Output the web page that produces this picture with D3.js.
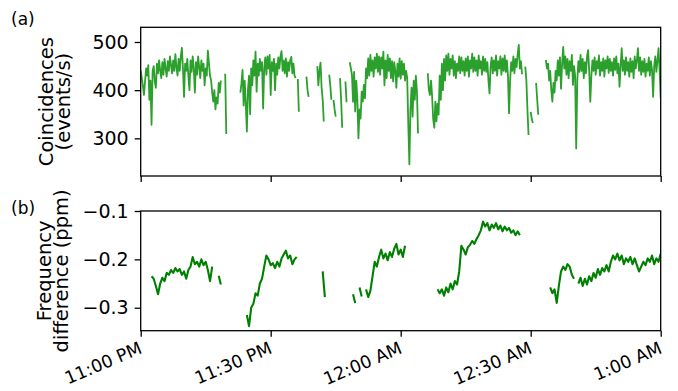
<!DOCTYPE html>
<html>
<head>
<meta charset="utf-8">
<script src="https://cdn.jsdelivr.net/npm/d3@7"></script>
<style>
  body { margin: 0; background: #fff; }
  svg { display: block; }
  text { font-family: "DejaVu Sans", sans-serif; fill: #000; }
</style>
</head>
<body>
<svg id="chart"></svg>
<script>
var width = 678;
var height = 391;

// minutes after 11:00 PM
var tickMinutes = [0, 30, 60, 90, 120];
var tickLabels = ["11:00 PM", "11:30 PM", "12:00 AM", "12:30 AM", "1:00 AM"];

// coincidences (events/s), one sample every quarter minute, null = no data
var coincStep = 0.25;
var coincRate = [
  440, 425, 410, 390, 418, 445, 430, 452, 380, 420,
  328, 440, 450, 418, 405, 455, 435, 462, 440, 425,
  458, 432, 465, 445, 428, 460, 440, 470, 452, 435,
  462, 440, 475, 448, 430, 465, 440, 470, 488, 445,
  386, 455, 440, 465, 430, 400, 462, 438, 470, 445,
  395, 458, 432, 470, 448, 425, 462, 440, 455, 410,
  445, 430, 482, 455, 430, 420, 395, 376, 400, 360,
  385, 372, 415, 395, 420, null, null, null, 434, 309,
  null, null, null, null, null, null, null, null, null, null,
  null, null, 395, 414, 442, 368, 420, 372, 314, 400,
  430, 350, 445, 410, 462, 430, 480, 397, 455, 430,
  465, 440, 458, 362, 445, 468, 432, 470, 445, 473,
  390, 458, 440, 465, 400, 455, 432, 468, 445, 470,
  481, 440, 462, 435, 466, 428, 458, 440, 462, 469,
  435, 455, 430, 425, null, 423, 355, null, null, null,
  null, null, null, 428, 400, 386, null, null, null, null,
  null, null, null, 450, 410, 440, 457, 405, 380, 335,
  null, null, null, null, 432, 410, 380, null, 380, 360,
  345, null, null, null, 425, 380, 322, null, null, 418,
  375, null, null, 458, 445, 432, 376, 438, 356, 420,
  380, 300, 360, 341, 397, 376, 411, 383, 445, 425,
  466, 430, 473, 440, 462, 428, 468, 445, 476, 438,
  470, 432, 468, 445, 480, 410, 462, 425, 473, 440,
  466, 425, 460, 418, 458, 440, 405, 455, 428, 466,
  424, 460, 432, 455, 420, 440, 425, 330, 246, 360,
  405, 345, 420, 380, 430, 397, 310, null, null, null,
  null, null, null, null, null, 435, 400, 390, 420, 387,
  340, 322, 376, 335, 372, 349, 430, 380, 455, 400,
  465, 420, 472, 440, 476, 432, 465, 445, 472, 430,
  460, 425, 455, 440, 470, 435, 468, 440, 460, 430,
  466, 440, 470, 428, 462, 445, 476, 438, 468, 440,
  462, 430, 472, 445, 460, 432, 470, 440, 465, 438,
  458, 420, 393, 450, 468, 435, 462, 440, 472, 430,
  460, 445, 470, 432, 466, 440, 472, 438, 462, 430,
  352, 420, 458, 440, 470, 435, 465, 448, 475, 494,
  445, 460, 433, null, null, 449, 420, 360, 307, null,
  355, 340, 332, null, null, 415, 380, 349, null, null,
  null, null, null, null, 463, 445, 455, 420, 440, 400,
  376, 415, 395, 440, 420, 462, 430, 468, 403, 455,
  490, 445, 470, 432, 465, 425, 460, 440, 473, 411,
  450, 430, 279, 420, 460, 438, 473, 440, 465, 425,
  458, 435, 470, 483, 440, 376, 430, 462, 440, 468,
  432, 460, 445, 472, 430, 458, 440, 466, 428, 462,
  445, 470, 436, 465, 440, 458, 430, 466, 442, 470,
  435, 455, 407, 450, 487, 440, 462, 432, 468, 440,
  458, 428, 466, 438, 460, 425, 470, 445, 462, 487,
  440, 468, 432, 460, 438, 465, 428, 455, 440, 468,
  430, 460, 442, 386, 450, 470, 438, 462, 487, 440,
  383
];

// frequency difference (ppm), one sample every half minute
var freqStep = 0.5;
var freqDiff = [
  null, null, null, null, null, -0.235, -0.240, -0.255, -0.272, -0.250,
  -0.238, -0.245, -0.228, -0.232, -0.222, -0.228, -0.218, -0.225, -0.220, -0.232,
  -0.225, -0.240, -0.222, -0.215, -0.195, -0.210, -0.205, -0.215, -0.200, -0.212,
  -0.205, -0.222, -0.245, -0.215, null, null, -0.234, -0.252, null, null,
  null, null, null, null, null, null, null, null, null, -0.315,
  -0.338, -0.300, -0.292, -0.270, -0.275, -0.250, -0.240, -0.215, -0.192, -0.200,
  -0.212, -0.208, -0.218, -0.205, -0.215, -0.198, -0.190, -0.182, -0.198, -0.192,
  -0.210, -0.200, -0.195, null, null, null, null, null, null, null,
  null, null, null, null, -0.225, -0.278, null, null, null, null,
  null, null, null, null, null, null, null, null, -0.272, -0.290,
  null, -0.258, -0.277, null, -0.262, -0.278, -0.265, -0.235, -0.205, -0.215,
  -0.195, -0.180, -0.198, -0.188, -0.202, -0.185, -0.195, -0.178, -0.168, -0.190,
  -0.180, -0.195, -0.172, null, null, null, null, null, null, null,
  null, null, null, null, null, null, null, -0.262, -0.270, -0.262,
  -0.275, -0.258, -0.268, -0.250, -0.262, -0.245, -0.252, -0.225, -0.172, -0.180,
  -0.190, -0.175, -0.170, -0.162, -0.168, -0.158, -0.150, -0.140, -0.122, -0.132,
  -0.125, -0.140, -0.128, -0.135, -0.125, -0.138, -0.130, -0.142, -0.132, -0.140,
  -0.135, -0.145, -0.140, -0.150, -0.142, -0.150, null, null, null, null,
  null, null, null, null, null, null, null, null, null, -0.258,
  -0.270, -0.262, -0.290, -0.255, -0.225, -0.215, -0.222, -0.210, -0.215, -0.232,
  -0.240, null, -0.250, -0.238, -0.255, -0.240, -0.252, -0.235, -0.245, -0.228,
  -0.238, -0.220, -0.232, -0.218, -0.225, -0.212, -0.225, -0.205, -0.192, -0.200,
  -0.188, -0.202, -0.192, -0.210, -0.198, -0.205, -0.195, -0.210, -0.198, -0.212,
  -0.225, -0.215, -0.205, -0.212, -0.198, -0.205, -0.192, -0.210, -0.198, -0.205,
  -0.188
];

var coincTicks = [300, 400, 500];
var freqTicks = [-0.3, -0.2, -0.1];

var left = 140.7, right = 660.7;
var panelA = { top: 27.3, bottom: 176 };
var panelB = { top: 211, bottom: 330.7 };

var svg = d3.select("#chart")
    .attr("width", width)
    .attr("height", height);

var x = d3.scaleLinear()
  .domain([0, 120])
  .range([left, right]);

var yA = d3.scaleLinear()
  .domain([221.8, 530.5])
  .range([panelA.bottom, panelA.top]);

var yB = d3.scaleLinear()
  .domain([-0.3475, -0.1])
  .range([panelB.bottom, panelB.top]);

var defs = svg.append("defs");
defs.append("clipPath").attr("id", "clipA").append("rect")
  .attr("x", left).attr("y", panelA.top)
  .attr("width", right - left).attr("height", panelA.bottom - panelA.top);
defs.append("clipPath").attr("id", "clipB").append("rect")
  .attr("x", left).attr("y", panelB.top)
  .attr("width", right - left).attr("height", panelB.bottom - panelB.top);

function drawSeries(values, step, yScale, clip, color, lw) {
  var line = d3.line()
    .defined(function(d) { return d != null; })
    .x(function(d, i) { return x(i * step); })
    .y(function(d) { return yScale(d); });
  svg.append("path")
    .datum(values)
    .attr("clip-path", "url(#" + clip + ")")
    .attr("fill", "none")
    .attr("stroke", color)
    .attr("stroke-width", lw)
    .attr("stroke-linejoin", "round")
    .attr("d", line);
}

drawSeries(coincRate, coincStep, yA, "clipA", "#2ca02c", 1.8);
drawSeries(freqDiff, freqStep, yB, "clipB", "#008000", 2.1);

function styleAxis(g) {
  g.select(".domain").remove();
  g.selectAll(".tick line").attr("stroke", "#000").attr("stroke-width", 1.3);
}

// y axes
svg.append("g")
  .attr("transform", "translate(" + left + ",0)")
  .call(d3.axisLeft(yA).tickValues(coincTicks).tickSize(6).tickPadding(6))
  .call(styleAxis)
  .selectAll("text").style("font-size", "19px");

svg.append("g")
  .attr("transform", "translate(" + left + ",0)")
  .call(d3.axisLeft(yB).tickValues(freqTicks).tickSize(6).tickPadding(6)
    .tickFormat(d3.format(".1f")))
  .call(styleAxis)
  .selectAll("text").style("font-size", "19px");

// x axes (top panel shares x, no labels)
svg.append("g")
  .attr("transform", "translate(0," + panelA.bottom + ")")
  .call(d3.axisBottom(x).tickValues(tickMinutes).tickSize(6).tickFormat(""))
  .call(styleAxis);

var xAxisB = svg.append("g")
  .attr("transform", "translate(0," + panelB.bottom + ")")
  .call(d3.axisBottom(x).tickValues(tickMinutes).tickSize(6)
    .tickFormat(function(d, i) { return tickLabels[i]; }))
  .call(styleAxis);

xAxisB.selectAll("text")
  .style("font-size", "17.5px")
  .attr("text-anchor", "end")
  .attr("y", 0)
  .attr("dy", 0)
  .attr("transform", "translate(2,22) rotate(-23)");

// frames
[panelA, panelB].forEach(function(p) {
  svg.append("rect")
    .attr("x", left).attr("y", p.top)
    .attr("width", right - left).attr("height", p.bottom - p.top)
    .attr("fill", "none")
    .attr("stroke", "#000")
    .attr("stroke-width", 1.3);
});

// axis titles
function yTitle(lines, xs, yc) {
  lines.forEach(function(t, i) {
    svg.append("text")
      .attr("transform", "translate(" + xs[i] + "," + yc + ") rotate(-90)")
      .attr("text-anchor", "middle")
      .style("font-size", "19.5px")
      .text(t);
  });
}
yTitle(["Coincidences", "(events/s)"], [53, 69.5], (panelA.top + panelA.bottom) / 2);
yTitle(["Frequency", "difference (ppm)"], [50.5, 68], (panelB.top + panelB.bottom) / 2);

svg.append("text").attr("x", 11).attr("y", 25).style("font-size", "17px").text("(a)");
svg.append("text").attr("x", 11).attr("y", 214).style("font-size", "17px").text("(b)");
</script>
</body>
</html>
